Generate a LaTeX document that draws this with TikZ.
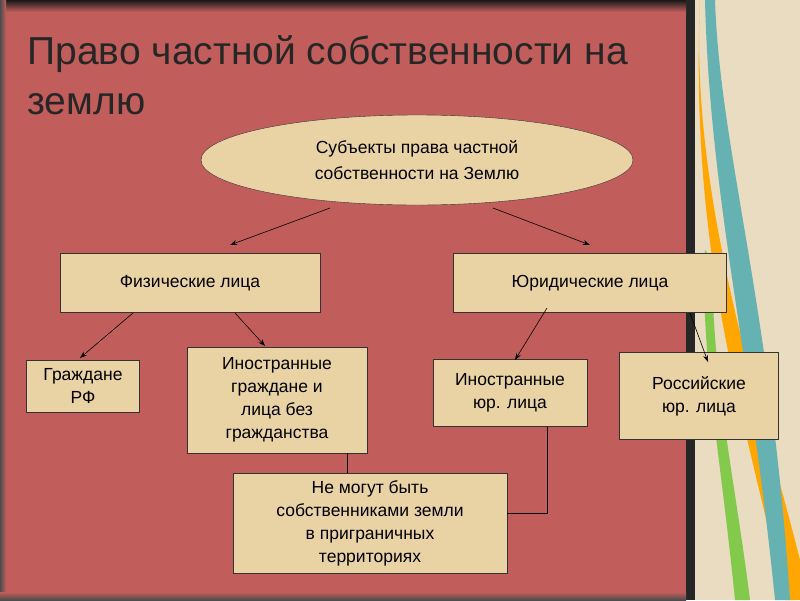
\documentclass[tikz,border=0pt]{standalone}
\usepackage{fontspec}
\setmainfont{Liberation Sans}
\usetikzlibrary{shapes.geometric,arrows.meta}
\definecolor{bg}{HTML}{C15E5C}
\definecolor{boxc}{HTML}{E9D3A5}
\definecolor{beige}{HTML}{E9DCC0}
\begin{document}
\begin{tikzpicture}[x=1pt,y=-1pt,
  bx/.style={draw=black!80,fill=boxc,align=center,font=\fontsize{17.5}{23}\selectfont,inner sep=2pt},
  ar/.style={-{Stealth[length=7pt,width=5pt]},black,line width=0.6pt},
  ln/.style={black,line width=0.6pt}]
\useasboundingbox (0,0) rectangle (800,600);
\fill[bg] (0,0) rectangle (800,600);
% right decorative strip
\fill[beige] (693,0) rectangle (800,600);
\fill[orange!70!yellow] (700,0) .. controls (690,200) and (760,400) .. (800,560) -- (800,600) -- (785,600) .. controls (740,400) and (690,250) .. (700,0);
\fill[teal!60] (715,0) .. controls (720,150) and (770,300) .. (790,600) -- (775,600) .. controls (750,350) and (710,200) .. (705,0) -- cycle;
\fill[green!40!olive!70] (735,600) .. controls (720,450) and (700,350) .. (705,250) -- (712,260) .. controls (712,380) and (735,480) .. (750,600) -- cycle;
\fill[black!85] (686,0) rectangle (695,600);
\shade[top color=black!90,bottom color=bg] (0,0) rectangle (686,12);
\shade[left color=black!70,right color=bg] (0,0) rectangle (6,600);
\shade[top color=bg,bottom color=black!70] (0,592) rectangle (686,600);
% title
\node[anchor=west,text=black!85,font=\fontsize{39}{50}\selectfont,align=left] (title) at (24,75) {Право частной собственности на\\землю};
% nodes
\node[ellipse,draw=black!80,fill=boxc,minimum width=432,minimum height=90,align=center,font=\fontsize{17.5}{26}\selectfont,inner sep=0] (root) at (417,160) {Субъекты права частной\\собственности на Землю};
\node[bx,minimum width=260,minimum height=59] (fiz) at (190,283) {Физические лица};
\node[bx,minimum width=273,minimum height=59] (yur) at (590,283) {Юридические лица};
\node[bx,minimum width=113,minimum height=52] (grf) at (83,386) {Граждане\\РФ};
\node[bx,minimum width=180,minimum height=106] (ino) at (277,400) {Иностранные\\граждане и\\лица без\\гражданства};
\node[bx,minimum width=154,minimum height=67] (iyur) at (510,393) {Иностранные\\юр. лица};
\node[bx,minimum width=159,minimum height=87] (ryur) at (699,396) {Российские\\юр. лица};
\node[bx,minimum width=274,minimum height=100] (ne) at (370,523) {Не могут быть\\собственниками земли\\в приграничных\\территориях};
% connectors
\coordinate (r1) at (330,208); \coordinate (r2) at (493,208);
\coordinate (f1) at (133,313); \coordinate (f2) at (235,313);
\coordinate (y1) at (547,308); \coordinate (y2) at (690,313);
\draw[ar] (r1) -- (230,245);
\draw[ar] (r2) -- (590,245);
\draw[ar] (f1) -- (80,358);
\draw[ar] (f2) -- (265,346);
\draw[ar] (y1) -- (515,360);
\draw[ar] (y2) -- (708,362);
\draw[ln] (ino.south -| 347,0) -- (ne.north -| 347,0);
\draw[ln] (iyur.south -| 547,0) -- (547,513) -- (ne.east |- 0,513);
\end{tikzpicture}
\end{document}
